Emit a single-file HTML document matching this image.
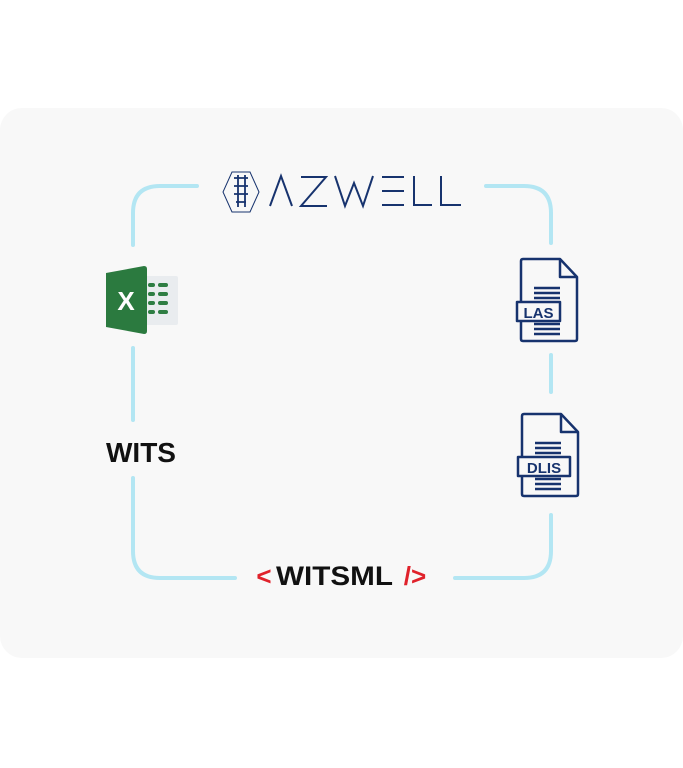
<!DOCTYPE html>
<html><head><meta charset="utf-8"><style>
html,body{margin:0;padding:0;background:#fff;}
svg{display:block;}
text{font-family:"Liberation Sans",Arial,sans-serif;}
</style></head><body>
<svg width="683" height="768" viewBox="0 0 683 768" xmlns="http://www.w3.org/2000/svg">
<rect x="0" y="108" width="683" height="550" rx="22" fill="#f8f8f8"/>
<g stroke="#b3e6f3" stroke-width="4" fill="none" stroke-linecap="round">
<path d="M197 186 H160 Q133 186 133 213 V245"/>
<path d="M133 348 V420"/>
<path d="M133 478 V551 Q133 578 160 578 H235"/>
<path d="M455 578 H524 Q551 578 551 551 V515"/>
<path d="M551 355 V392"/>
<path d="M551 243 V213 Q551 186 524 186 H486"/>
</g>
<!-- logo -->
<g fill="none" stroke="#17336e">
<path d="M232 172 L250 172 L259 192 L250 212 L232 212 L223 192 Z" stroke-width="1"/>
<path d="M234 178 h14 M234 186 h14 M234 194 h14 M236 202 h10 M238 175 v32 M245 175 v32" stroke-width="1.8"/>
</g>
<g fill="none" stroke="#17336e" stroke-width="2">
<path d="M270 206 L281 176 L292 206"/>
<path d="M301 177 H326 L301 206 H327"/>
<path d="M335 176 L345 206 L354 183 L363 206 L373 176"/>
<path d="M382 177 H404 M382 191 H404 M382 205 H404"/>
<path d="M414 176 V205 H432"/>
<path d="M441 176 V205 H461"/>
</g>
<!-- excel -->
<rect x="140" y="276" width="38" height="49" rx="2" fill="#e9ecef"/>
<g fill="#2e7d43"><rect x="148" y="283" width="7" height="4" rx="2"/><rect x="158" y="283" width="10" height="4" rx="2"/>
<rect x="148" y="292" width="7" height="4" rx="2"/><rect x="158" y="292" width="10" height="4" rx="2"/>
<rect x="148" y="301" width="7" height="4" rx="2"/><rect x="158" y="301" width="10" height="4" rx="2"/>
<rect x="148" y="310" width="7" height="4" rx="2"/><rect x="158" y="310" width="10" height="4" rx="2"/></g>
<path d="M106 273 L144 266 Q147 266 147 269 V331 Q147 334 144 334 L106 327 Z" fill="#2b7a3f"/>
<text x="126" y="310" font-size="26" font-weight="bold" fill="#fff" text-anchor="middle">X</text>
<text x="141" y="462" font-size="28" font-weight="bold" fill="#111" text-anchor="middle">WITS</text>
<text x="264" y="585" font-size="26" font-weight="bold" fill="#e0222b" text-anchor="middle">&lt;</text>
<text x="276" y="585" font-size="27" font-weight="bold" fill="#111" textLength="117" lengthAdjust="spacingAndGlyphs">WITSML</text>
<text x="415" y="585" font-size="26" font-weight="bold" fill="#e0222b" text-anchor="middle">/&gt;</text>
<!-- LAS -->
<g fill="none" stroke="#17336e" stroke-width="2.5" stroke-linejoin="round">
<path d="M523 259 H560 L577 277 V339 Q577 341 575 341 H523 Q521 341 521 339 V261 Q521 259 523 259 Z"/>
<path d="M560 259 V277 H577"/>
<path d="M534 288 H560 M534 293 H560 M534 298 H560 M534 324 H560 M534 329 H560 M534 334 H560"/>
<rect x="517" y="302" width="43" height="19" fill="#f8f8f8"/>
</g>
<text x="538.5" y="318" font-size="15" font-weight="bold" fill="#17336e" text-anchor="middle">LAS</text>
<!-- DLIS -->
<g fill="none" stroke="#17336e" stroke-width="2.5" stroke-linejoin="round">
<path d="M524 414 H561 L578 432 V494 Q578 496 576 496 H524 Q522 496 522 494 V416 Q522 414 524 414 Z"/>
<path d="M561 414 V432 H578"/>
<path d="M535 443 H561 M535 448 H561 M535 453 H561 M535 479 H561 M535 484 H561 M535 489 H561"/>
<rect x="518" y="457" width="52" height="19" fill="#f8f8f8"/>
</g>
<text x="544" y="473" font-size="15" font-weight="bold" fill="#17336e" text-anchor="middle">DLIS</text>
</svg>
</body></html>
